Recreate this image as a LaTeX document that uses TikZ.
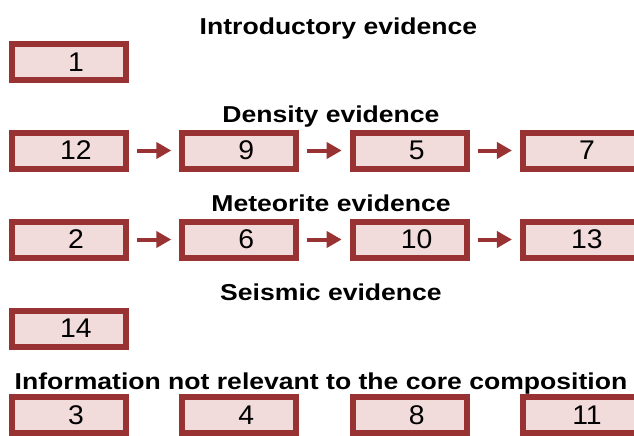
\documentclass[tikz,border=0pt]{standalone}
\usepackage{fontspec}
\setmainfont{Liberation Sans}
\newfontfamily\titlefam{Liberation Sans Bold}[FakeStretch=1.155]
\newfontfamily\numfam{Liberation Sans}[FakeStretch=1.05]
\usetikzlibrary{arrows.meta, positioning, calc}
\definecolor{boxred}{RGB}{153,51,51}
\definecolor{boxfill}{RGB}{242,220,219}

\begin{document}
\begin{tikzpicture}[
    x=1pt, y=-1pt,
    box/.style={draw=boxred, fill=boxfill, line width=6pt, minimum width=114pt, minimum height=36pt, inner sep=0pt}, % 方框
    num/.style={font=\numfam\fontsize{27}{30}\selectfont}, % 方框内编号
    heading/.style={font=\titlefam\fontsize{23}{26}\selectfont, anchor=base}, % 各组标题
    link/.style={boxred, line width=4pt, -{Triangle[length=15pt,width=16pt]}, shorten <=8pt, shorten >=8pt} % 箭头
]
    \useasboundingbox (0,0) rectangle (634,436);

    % 1. 标题
    \node[heading] (h-intro) at (338.5,35) {Introductory evidence};
    \node[heading] (h-dens) at (331,122) {Density evidence};
    \node[heading] (h-met) at (331,211.5) {Meteorite evidence};
    \node[heading] (h-seis) at (331,300.5) {Seismic evidence};
    \node[heading] (h-info) at (321,389) {Information not relevant to the core composition};

    % 2. 单个方框的两行
    \node[box] (i1) at (69,62) {};
    \node[num] (i1-t) at ([xshift=7pt]i1.center) {1};
    \node[box] (s1) at (69,328.5) {};
    \node[num] (s1-t) at ([xshift=7pt]s1.center) {14};

    % 3. 四个方框的三行
    \foreach \n [count=\i] in {12,9,5,7} {
        \pgfmathsetmacro\colx{69+170.33*(\i-1)}
        \node[box] (d\i) at (\colx,150.5) {};
        \node[num] (d\i-t) at ([xshift=7pt]d\i.center) {\n};
    }
    \foreach \n [count=\i] in {2,6,10,13} {
        \pgfmathsetmacro\colx{69+170.33*(\i-1)}
        \node[box] (m\i) at (\colx,239.5) {};
        \node[num] (m\i-t) at ([xshift=7pt]m\i.center) {\n};
    }
    \foreach \n [count=\i] in {3,4,8,11} {
        \pgfmathsetmacro\colx{69+170.33*(\i-1)}
        \node[box] (n\i) at (\colx,415) {};
        \node[num] (n\i-t) at ([xshift=7pt]n\i.center) {\n};
    }

    % 4. 箭头
    \foreach \a/\b in {1/2,2/3,3/4} {
        \draw[link] (d\a.east) -- (d\b.west);
        \draw[link] (m\a.east) -- (m\b.west);
    }

\end{tikzpicture}
\end{document}
